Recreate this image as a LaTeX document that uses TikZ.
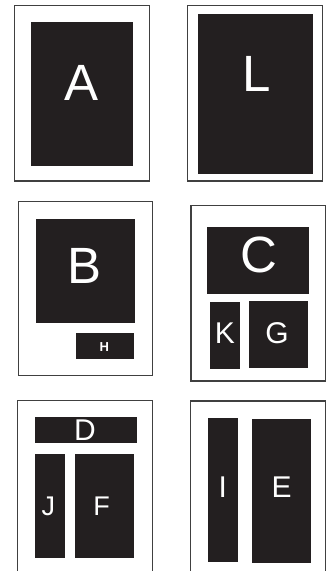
\documentclass[tikz,border=0pt]{standalone}
\usepackage{fontspec}
\setmainfont{Liberation Sans}
\usetikzlibrary{fit}
\definecolor{ink}{HTML}{231F20}
\definecolor{framec}{HTML}{404040}
\tikzset{
  blk/.style={fill=ink, draw=none, inner sep=0pt},
  frm/.style={draw=framec, line width=1.2pt},
  lbl/.style={text=white, inner sep=0pt, font=\fontsize{51}{51}\selectfont},
  lblm/.style={text=white, inner sep=0pt, font=\fontsize{30}{30}\selectfont},
  lbls/.style={text=white, inner sep=0pt, font=\fontsize{27}{27}\selectfont},
  lblh/.style={text=white, inner sep=0pt, font=\bfseries\fontsize{13}{13}\selectfont},
}
\begin{document}
\begin{tikzpicture}[x=1pt,y=-1pt]
\useasboundingbox (0,0) rectangle (330,571);
% frames
\draw[frm] (14.3,5.7) rectangle (149.3,181);
\draw[frm] (187.7,5.7) rectangle (322.3,181);
\draw[frm] (18.3,201.7) rectangle (152.3,375.3);
\draw[frm] (191,205.7) rectangle (325.7,381);
\draw[frm] (17.7,571) -- (17.7,400.7) -- (152.3,400.7) -- (152.3,571);
\draw[frm] (190.7,571) -- (190.7,401) -- (325.7,401) -- (325.7,571);
% boxes
\node[blk, fit={(31,22) (133,165.7)}] (A) {};
\node[blk, fit={(198,14) (313,173.7)}] (L) {};
\node[blk, fit={(36,219) (135,323.3)}] (B) {};
\node[blk, fit={(75.7,333.3) (133.7,359.3)}] (H) {};
\node[blk, fit={(207,226.7) (309,294)}] (C) {};
\node[blk, fit={(210,302) (240,369)}] (K) {};
\node[blk, fit={(249,301) (308,368)}] (G) {};
\node[blk, fit={(35,416.7) (137,443.3)}] (D) {};
\node[blk, fit={(35,454) (64.7,557.7)}] (J) {};
\node[blk, fit={(75.3,454) (134,557.7)}] (F) {};
\node[blk, fit={(208,418.3) (237.7,561.7)}] (I) {};
\node[blk, fit={(252,419) (311,563)}] (E) {};
% labels
\node[lbl] (tA) at (81.7,83.3) {A};
\node[lbl] (tL) at (256.7,73.5) {L};
\node[lbl] (tB) at (85,266) {B};
\node[lblh] (tH) at (104.3,346.7) {H};
\node[lbl] (tC) at (259,255) {C};
\node[lblm] (tK) at (225,333.3) {K};
\node[lblm] (tG) at (277,333) {G};
\node[lblm] (tD) at (85,430) {D};
\node[lbls] (tJ) at (48.3,506) {J};
\node[lbls] (tF) at (101.7,506) {F};
\node[lblm] (tI) at (222.7,487.3) {I};
\node[lblm] (tE) at (281.7,487) {E};
\end{tikzpicture}
\end{document}
